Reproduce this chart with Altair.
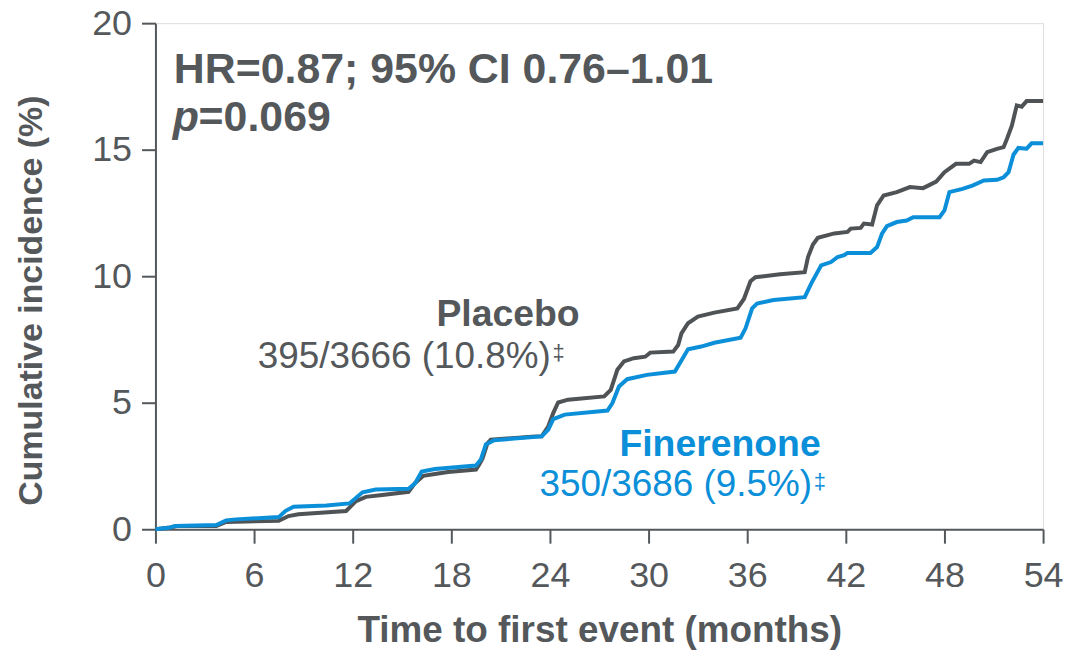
import altair as alt
import pandas as pd

# ---- data ----
placebo_month = [0, 0.9, 1.3, 3.7, 4.3, 7.5, 8.1, 8.7, 11.6, 12.2, 12.8, 13.8, 15.4, 15.8, 16.3, 17.2, 17.8,
                 19.5, 19.7, 19.9, 20.2, 20.4, 23.1, 23.5, 23.9, 24.2, 24.5, 25.1, 27.3, 27.7, 28.1, 28.5,
                 29.1, 29.8, 30.1, 31.5, 31.8, 32.0, 32.4, 33.0, 34.0, 35.4, 35.8, 36.2, 36.5, 38.0, 39.5,
                 39.7, 40.0, 40.3, 41.3, 42.1, 42.3, 42.9, 43.1, 43.6, 43.9, 44.3, 45.1, 45.9, 46.7, 47.1,
                 47.5, 48.0, 48.7, 49.5, 49.8, 50.2, 50.6, 51.2, 51.6, 51.8, 52.1, 52.4, 52.7, 53.0, 54.0]
placebo_pct = [0, 0.07, 0.13, 0.13, 0.29, 0.33, 0.52, 0.59, 0.72, 1.11, 1.28, 1.35, 1.48, 1.83, 2.11, 2.2, 2.26,
               2.36, 2.56, 2.8, 3.4, 3.54, 3.67, 3.67, 4.07, 4.59, 5.01, 5.12, 5.25, 5.51, 6.30, 6.63,
               6.76, 6.82, 6.98, 7.02, 7.28, 7.74, 8.14, 8.40, 8.56, 8.73, 9.1, 9.8, 9.96, 10.08, 10.16,
               10.76, 11.25, 11.52, 11.69, 11.75, 11.88, 11.91, 12.08, 12.04, 12.80, 13.19, 13.32, 13.52, 13.48, 13.61,
               13.74, 14.11, 14.44, 14.44, 14.57, 14.51, 14.9, 15.03, 15.1, 15.42, 15.95, 16.75, 16.7, 16.92, 16.92]

fin_month = [0, 0.9, 1.2, 3.7, 4.3, 4.9, 7.5, 7.9, 8.4, 10.4, 11.8, 12.6, 13.4, 15.4, 15.8, 16.2, 17.0,
             19.5, 19.8, 20.1, 20.6, 23.5, 23.9, 24.2, 24.9, 27.5, 27.8, 28.2, 28.7, 29.9, 31.6, 31.9,
             32.4, 33.2, 34.0, 35.6, 35.9, 36.3, 36.6, 37.6, 39.5, 39.9, 40.5, 41.1, 41.5, 41.9, 42.1,
             43.5, 43.9, 44.2, 44.5, 45.1, 45.7, 46.1, 47.7, 48.0, 48.3, 49.1, 49.7, 50.4, 51.2, 51.6,
             51.9, 52.2, 52.5, 53.0, 53.3, 54.0]
fin_pct = [0, 0.07, 0.13, 0.17, 0.35, 0.39, 0.48, 0.72, 0.89, 0.94, 1.02, 1.46, 1.57, 1.6, 1.82, 2.28, 2.38,
           2.52, 2.76, 3.35, 3.52, 3.67, 3.94, 4.35, 4.53, 4.69, 4.99, 5.64, 5.93, 6.1, 6.23, 6.56,
           7.11, 7.22, 7.37, 7.57, 7.94, 8.73, 8.92, 9.06, 9.17, 9.72, 10.43, 10.56, 10.76, 10.83, 10.92,
           10.92, 11.15, 11.68, 11.98, 12.14, 12.2, 12.33, 12.33, 12.6, 13.32, 13.45, 13.58, 13.78, 13.81, 13.91,
           14.11, 14.8, 15.07, 15.04, 15.25, 15.25]

series_names = ["Placebo", "Finerenone"]
x_ticks = [0, 6, 12, 18, 24, 30, 36, 42, 48, 54]
y_ticks = [0, 5, 10, 15, 20]

GREY = "#54585b"
LINE_GREY = "#4f5356"
BLUE = "#0b8fd9"
FONT = "Liberation Sans"

df = pd.concat([
    pd.DataFrame({"month": placebo_month, "pct": placebo_pct, "arm": "Placebo", "i": range(len(placebo_month))}),
    pd.DataFrame({"month": fin_month, "pct": fin_pct, "arm": "Finerenone", "i": range(len(fin_month))}),
])

xscale = alt.Scale(domain=[0, 54], nice=False, zero=False)
yscale = alt.Scale(domain=[0, 20], nice=False)

lines = alt.Chart(df).mark_line(strokeWidth=4, interpolate="linear").encode(
    x=alt.X("month:Q", scale=xscale,
            axis=alt.Axis(values=x_ticks, title="Time to first event (months)", grid=False,
                          labelFontSize=36, labelColor=GREY, labelFont=FONT, labelFlush=False,
                          labelPadding=15, tickSize=14, tickWidth=2, tickColor=GREY,
                          domainColor=GREY, domainWidth=2,
                          titleFontSize=37, titleFont=FONT, titleFontWeight="bold", titleColor=GREY,
                          titleY=113, titleBaseline="alphabetic")),
    y=alt.Y("pct:Q", scale=yscale,
            axis=alt.Axis(values=y_ticks, title="Cumulative incidence (%)", grid=False,
                          labelFontSize=36, labelColor=GREY, labelFont=FONT,
                          labelPadding=10, tickSize=14, tickWidth=2, tickColor=GREY,
                          domainColor=GREY, domainWidth=2,
                          titleFontSize=34, titleFont=FONT, titleFontWeight="bold", titleColor=GREY,
                          titleX=-114, titleY=278, titleBaseline="alphabetic", titleAlign="center")),
    color=alt.Color("arm:N", scale=alt.Scale(domain=series_names, range=[LINE_GREY, BLUE]), legend=None),
    detail="arm:N",
    order=alt.Order("i:Q"),
)

def label(text, x, y, color, size, weight="normal", align="left", style="normal", dx=0):
    d = pd.DataFrame({"month": [x], "pct": [y], "t": [text]})
    return alt.Chart(d).mark_text(font=FONT, fontSize=size, fontWeight=weight, fontStyle=style,
                                  color=color, align=align, baseline="alphabetic", dx=dx).encode(
        x=alt.X("month:Q", scale=xscale), y=alt.Y("pct:Q", scale=yscale), text="t:N")

texts = [
    label("HR=0.87; 95% CI 0.76\u20131.01", 1.12, 17.65, GREY, 43, "bold"),
    label("p", 1.05, 15.75, GREY, 43, "bold", style="italic"),
    label("=0.069", 1.05, 15.75, GREY, 43, "bold", dx=26),
    label("Placebo", 21.45, 8.03, GREY, 37.5, "bold", align="center"),
    label("395/3666 (10.8%)", 24.05, 6.38, GREY, 37, align="right"),
    label("\u2021", 24.15, 6.7, GREY, 22),
    label("Finerenone", 34.35, 2.89, BLUE, 37.5, "bold", align="center"),
    label("350/3686 (9.5%)", 39.95, 1.31, BLUE, 37, align="right"),
    label("\u2021", 40.05, 1.6, BLUE, 22),
]

chart = alt.layer(lines, *texts).properties(
    width=891, height=508,
    autosize=alt.AutoSizeParams(type="none"),
    padding={"left": 148, "top": 14, "right": 20, "bottom": 120},
).configure_view(strokeWidth=0).configure(background="white")

chart.save("out.html", embed_options={"renderer": "svg", "actions": False})
